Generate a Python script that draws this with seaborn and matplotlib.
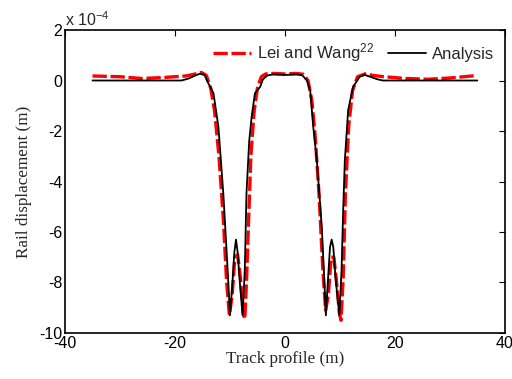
import matplotlib
matplotlib.use("Agg")
import matplotlib.pyplot as plt
import seaborn as sns
import pandas as pd

# Track profile positions (m) and rail displacement (x 1e-4 m)
x_analysis = [-35, -18.8, -17.5, -16.5, -15.5, -14.6, -14.2, -13.0, -12.1, -11.2, -10.7, -10.3, -10.0,
              -9.6, -9.2, -8.9, -8.6, -8.2, -7.7, -7.3, -7.0, -6.5, -6.05, -5.45, -4.5, -4.0, -3.2,
              -2.2, 0, 2.2, 3.2, 4.0, 4.6, 5.15, 5.8, 6.7, 7.1, 7.45, 7.8, 8.2, 8.5, 8.8, 9.2, 9.9,
              10.3, 10.6, 10.9, 11.5, 12.4, 13.6, 14.5, 15.5, 16.8, 17.8, 35]
y_analysis = [0, 0, 0.08, 0.18, 0.27, 0.22, 0.0, -0.5, -1.83, -4.5, -6.4, -8.0, -9.3,
              -8.2, -6.8, -6.3, -6.8, -8.0, -9.3, -7.5, -4.5, -2.4, -1.43, -0.5, -0.25, 0.05, 0.2,
              0.24, 0.22, 0.24, 0.2, 0.0, -0.4, -1.83, -3.15, -5.8, -7.6, -9.3, -8.0, -6.6, -6.3, -6.6, -7.8, -9.3,
              -7.5, -5.1, -3.15, -1.17, -0.25, 0.15, 0.22, 0.15, 0.05, 0, 0]

x_lei = [-35, -30, -26, -22, -18, -16.5, -15.2, -14.3, -13.5, -12.8, -12.0, -11.2, -10.6, -10.1,
         -9.6, -9.1, -8.6, -8.1, -7.6, -7.3, -7.0, -6.6, -6.2, -5.6, -5.0, -4.3, -3.5, -2.0, 0,
         2.0, 3.3, 4.2, 4.9, 5.5, 6.2, 6.9, 7.4, 7.9, 8.4, 8.9, 9.4, 9.9, 10.2, 10.6, 11.0, 11.6,
         12.3, 13.2, 14.8, 16, 18, 22, 26, 30, 35]
y_lei = [0.18, 0.15, 0.08, 0.12, 0.18, 0.25, 0.32, 0.2, -0.3, -1.2, -3.0, -5.5, -8.0, -9.3,
         -8.5, -7.0, -6.9, -7.8, -9.2, -9.45, -8.0, -5.5, -3.0, -1.2, -0.3, 0.15, 0.26, 0.28, 0.26,
         0.28, 0.25, 0.0, -0.8, -2.2, -4.5, -7.5, -9.1, -8.5, -7.0, -7.0, -8.0, -9.2, -9.5, -7.8, -4.5, -1.8,
         -0.4, 0.15, 0.28, 0.2, 0.15, 0.08, 0.05, 0.1, 0.2]

x_ticks = [-40, -20, 0, 20, 40]
y_ticks = [2, 0, -2, -4, -6, -8, -10]

sns.set_style("white")
plt.rcParams['font.family'] = ['Liberation Sans', 'DejaVu Sans']
plt.rcParams['axes.unicode_minus'] = False
plt.rcParams['mathtext.fontset'] = 'custom'
plt.rcParams['mathtext.rm'] = 'Liberation Sans'
plt.rcParams['mathtext.it'] = 'Liberation Sans:italic'
plt.rcParams['mathtext.bf'] = 'Liberation Sans:bold'
plt.rcParams['mathtext.default'] = 'regular'

df_lei = pd.DataFrame({"x": x_lei, "y": y_lei})
df_an = pd.DataFrame({"x": x_analysis, "y": y_analysis})

fig = plt.figure(figsize=(5.12, 3.79), dpi=100)
ax = fig.add_axes([0.127, 0.1214, 0.859, 0.7994])

sns.lineplot(data=df_lei, x="x", y="y", ax=ax, sort=False, color="#ff0000", lw=2.4,
             label="Lei and Wang$^{22}$", estimator=None)
ax.lines[-1].set_dashes([4.3, 1.1])
sns.lineplot(data=df_an, x="x", y="y", ax=ax, sort=False, color="black", lw=1.3,
             label="Analysis", estimator=None)

ax.set_xlim(-40, 40)
ax.set_ylim(-10, 2)
ax.set_xticks(x_ticks)
ax.set_yticks(y_ticks)
ax.tick_params(direction="in", length=4, width=0.8, labelsize=11.5, top=True, right=True,
               colors="black", pad=2)
for s in ax.spines.values():
    s.set_visible(True)
    s.set_color("black")
    s.set_linewidth(1.2)

ax.set_xlabel("Track profile (m)", family="Liberation Serif", fontsize=12.3, labelpad=0)
ax.set_ylabel("Rail displacement (m)", family="Liberation Serif", fontsize=12.3, labelpad=5)
ax.text(0.0, 1.005, "x 10$^{-4}$", transform=ax.transAxes, ha="left", va="bottom", fontsize=11.5)

leg = ax.legend(loc="center right", bbox_to_anchor=(0.975, 0.925), ncol=2, frameon=False,
                fontsize=12, handlelength=2.3, handletextpad=0.35, columnspacing=0.8,
                borderaxespad=0, borderpad=0)

fig.savefig("out.png", dpi=100)
